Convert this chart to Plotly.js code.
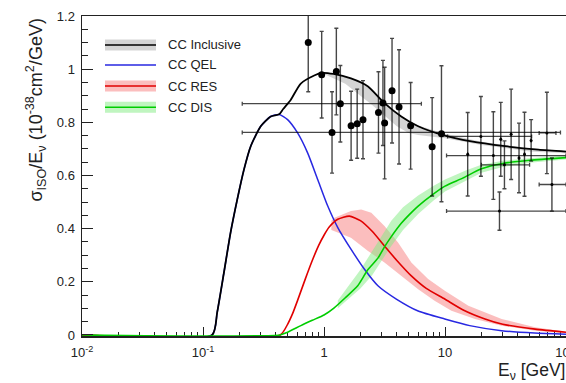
<!DOCTYPE html>
<html><head><meta charset="utf-8">
<script src="https://cdn.plot.ly/plotly-3.0.1.min.js"></script>
<style>html,body{margin:0;padding:0;background:#fff;overflow:hidden}#chart{width:566px;height:383px}</style>
</head><body><div id="chart"></div>
<script>
// ---- model curves (E in GeV, sigma/E in 1e-38 cm^2/GeV) ----
const qelE = [0.01,0.119,0.131,0.149,0.169,0.192,0.218,0.248,0.300,0.363,0.426,0.500,0.605,0.732,0.887,1.074,1.30,1.675,2.16,2.79,3.96,6.0,9.95,16,29.4,55,100];
const qelV = [0,0,0.085,0.235,0.385,0.51,0.622,0.71,0.785,0.822,0.829,0.81,0.76,0.685,0.585,0.485,0.404,0.322,0.247,0.185,0.135,0.09,0.06,0.035,0.016,0.007,0.003];

const incE = [0.01,0.119,0.131,0.149,0.169,0.192,0.218,0.248,0.300,0.363,0.426,0.46,0.532,0.64,0.83,0.96,1.2,1.67,2.31,3.16,4.35,6.0,9.3,16.5,31.4,59,100];
const incV = [0,0,0.085,0.235,0.385,0.51,0.622,0.71,0.785,0.822,0.83,0.85,0.885,0.945,0.976,0.986,0.982,0.965,0.935,0.872,0.822,0.785,0.754,0.728,0.71,0.697,0.69];

const resE = [0.01,0.434,0.5,0.55,0.605,0.7,0.8,0.9,1.0,1.1,1.3,1.62,2.0,2.5,3.16,4.0,5.27,7.0,9.95,14,21.4,30,55.6,100];
const resV = [0,0,0.04,0.08,0.13,0.21,0.28,0.335,0.375,0.405,0.435,0.447,0.43,0.39,0.335,0.28,0.222,0.175,0.135,0.095,0.06,0.04,0.022,0.01];

const disE = [0.01,0.434,0.5,0.644,0.8,1.0,1.2,1.5,1.9,2.3,2.8,3.2,3.6,4.35,5.0,6.0,8.0,10,14,20,30,50,100];
const disV = [0,0,0.01,0.035,0.055,0.075,0.10,0.14,0.185,0.245,0.29,0.335,0.37,0.42,0.45,0.485,0.53,0.56,0.59,0.625,0.645,0.657,0.667];

// ---- uncertainty bands ----
const incBandE = [1.0,1.5,2.0,2.5,3.0,4.0,5.0,6.0,10,20,50,100];
const incBandHi = [0.986,0.973,0.952,0.92,0.888,0.835,0.805,0.788,0.757,0.727,0.702,0.693];
const incBandLo = [0.982,0.945,0.9,0.865,0.835,0.785,0.76,0.752,0.74,0.715,0.69,0.684];

const resBandHiE = [1.15,1.22,1.67,2.03,2.46,3.16,4.09,5.27,7.25,9.96,15.6,29.4,55.6,100];
const resBandHi  = [0.43,0.441,0.466,0.472,0.46,0.41,0.348,0.273,0.21,0.166,0.11,0.06,0.029,0.012];
const resBandLoE = [1.15,1.67,2.31,3.16,4.35,6.0,8.2,11.3,17.7,29.4,55.6,100];
const resBandLo  = [0.395,0.366,0.316,0.273,0.222,0.172,0.129,0.091,0.06,0.035,0.016,0.0075];

const disBandE  = [1.3,1.6,2.0,2.5,3.0,3.6,4.5,6,8,10,15,20,30,50,100];
const disBandHi = [0.13,0.185,0.245,0.315,0.37,0.43,0.48,0.525,0.56,0.585,0.62,0.64,0.655,0.665,0.675];
const disBandLo = [0.10,0.135,0.175,0.225,0.28,0.335,0.395,0.455,0.505,0.54,0.58,0.61,0.632,0.648,0.66];

// ---- measurements ----
const ptE   = [0.741,0.957,1.265,1.165,1.365,1.675,1.88,2.10,2.82,3.07,3.17,3.65,4.17,5.2,7.83,9.35];
const ptV   = [1.10,0.979,0.991,0.762,0.87,0.787,0.795,0.81,0.837,0.873,0.797,0.919,0.858,0.787,0.708,0.757];
const ptErr = [0.185,0.163,0.163,0.153,0.144,0.13,0.13,0.147,0.153,0.16,0.21,0.197,0.215,0.163,0.185,0.256];
const ptXlo = [0.741,0.957,1.265,0.211,0.211,1.675,1.88,2.10,2.82,3.07,3.17,3.65,4.17,5.2,7.83,9.35];
const ptXhi = [0.741,0.957,1.265,90,6.38,1.675,1.88,2.10,2.82,3.07,3.17,3.65,4.17,5.2,7.83,9.35];

const hiE   = [15.4,19.8,25.1,28.9,31,35.2,40.9,45.4,51.5,69.5,76.5,28.2];
const hiV   = [0.68,0.747,0.675,0.736,0.64,0.755,0.666,0.68,0.732,0.76,0.566,0.466];
const hiErr = [0.157,0.15,0.165,0.139,0.09,0.17,0.131,0.158,0.078,0.153,0.1,0.072];
const hiXlo = [15.4,10.5,10.3,28.9,20,35.2,40.9,45.4,51.5,60,60,10.3];
const hiXhi = [15.4,52,100,28.9,50,35.2,40.9,45.4,51.5,82.6,100,100];

const xTickVals = [0.01,0.1,1,10,100];
const xTickText = ['10<sup>-2</sup>','10<sup>-1</sup>','1','10','100'];

const legendLabels = ['CC Inclusive','CC QEL','CC RES','CC DIS'];

// ---- build ----
function band(xHi, yHi, xLo, yLo, color) {
  return {x: xHi.concat(xLo.slice().reverse()), y: yHi.concat(yLo.slice().reverse()),
    type:'scatter', mode:'lines', fill:'toself', fillcolor:color, line:{width:0},
    hoverinfo:'skip', showlegend:false};
}
function curve(x, y, color, w) {
  return {x:x, y:y, type:'scatter', mode:'lines', line:{color:color, width:w, shape:'spline', smoothing:0.6},
    hoverinfo:'skip', showlegend:false};
}
function points(E, V, err, lo, hi, size) {
  return {x:E, y:V, type:'scatter', mode:'markers', showlegend:false, hoverinfo:'skip',
    marker:{color:'#000', size:size},
    error_y:{type:'data', array:err, visible:true, color:'rgba(0,0,0,0.72)', thickness:1.4, width:2},
    error_x:{type:'data', symmetric:false, array:hi.map((h,i)=>h-E[i]), arrayminus:lo.map((l,i)=>E[i]-l),
      visible:true, color:'rgba(0,0,0,0.72)', thickness:1.3, width:2}};
}

const bandGray = 'rgba(160,160,160,0.45)', bandRed = 'rgba(248,150,150,0.62)', bandGreen = 'rgba(130,235,130,0.5)';
const colBlue = 'rgb(40,40,225)', colRed = 'rgb(225,0,0)', colGreen = 'rgb(0,205,0)';

const traces = [
  band(incBandE, incBandHi, incBandE, incBandLo, bandGray),
  band(resBandHiE, resBandHi, resBandLoE, resBandLo, bandRed),
  band(disBandE, disBandHi, disBandE, disBandLo, bandGreen),
  curve(qelE, qelV, colBlue, 1.5),
  curve(incE, incV, '#000', 1.8),
  curve(resE, resV, colRed, 1.6),
  curve(disE, disV, colGreen, 1.6),
  points(ptE, ptV, ptErr, ptXlo, ptXhi, 7),
  points(hiE, hiV, hiErr, hiXlo, hiXhi, 3)
];

const W = 484, H = 320, L = 82, T = 16;
const px = v => (v - L) / W;
const py = v => (T + H - v) / H;

const minorX = [];
for (let d = -2; d < 2; d++) for (let k = 2; k <= 9; k++) minorX.push(k * Math.pow(10, d));

const shapes = [], annotations = [];
const legY = [45, 65, 86, 107.3];
const legColors = ['#000', colBlue, colRed, colGreen];
const legBand = [bandGray, null, bandRed, bandGreen];
legendLabels.forEach((lab, i) => {
  if (legBand[i]) shapes.push({type:'rect', xref:'paper', yref:'paper', x0:px(105), x1:px(156), y0:py(legY[i]+5.5), y1:py(legY[i]-5.5), fillcolor:legBand[i], line:{width:0}});
  shapes.push({type:'line', xref:'paper', yref:'paper', x0:px(105), x1:px(156), y0:py(legY[i]), y1:py(legY[i]), line:{color:legColors[i], width:1.6}});
  annotations.push({xref:'paper', yref:'paper', x:px(166), y:py(legY[i]), xanchor:'left', yanchor:'middle', showarrow:false, text:lab, font:{size:13, color:'#222'}});
});
annotations.push({xref:'paper', yref:'paper', x:0, xshift:-46, y:1, yshift:-1, yanchor:'top', xanchor:'center', textangle:-90, showarrow:false,
  text:'σ<sub>ISO</sub>/E<sub>ν</sub> (10<sup>-38</sup>cm<sup>2</sup>/GeV)', font:{size:18, color:'#222'}});
annotations.push({xref:'paper', yref:'paper', x:px(496), y:py(371), xanchor:'left', yanchor:'middle', showarrow:false,
  text:'E<sub>ν</sub> [GeV]', font:{size:17.5, color:'#222'}});

const layout = {
  width:566, height:383, margin:{l:82, r:0, t:16, b:47}, paper_bgcolor:'#fff', plot_bgcolor:'#fff',
  font:{family:'"Liberation Sans", Arial, sans-serif', size:13, color:'#222'},
  showlegend:false,
  xaxis:{type:'log', range:[-2, 2], tickvals:xTickVals, ticktext:xTickText, ticks:'inside', ticklen:9, tickwidth:1, tickcolor:'#222',
    showline:true, linecolor:'#222', linewidth:1.5, mirror:true, showgrid:false, zeroline:false, automargin:false, layer:'below traces',
    ticklabelstandoff:4, ticklabeloverflow:'allow',
    minor:{tickvals:minorX, ticks:'inside', ticklen:4, tickwidth:1, tickcolor:'#222', showgrid:false}},
  yaxis:{range:[-0.004, 1.2], tickvals:[0,0.2,0.4,0.6,0.8,1,1.2], ticktext:['0','0.2','0.4','0.6','0.8','1','1.2'], ticks:'inside', ticklen:11, tickwidth:1, tickcolor:'#222',
    showline:true, linecolor:'#222', linewidth:1.5, showgrid:false, zeroline:false, automargin:false,
    ticklabelstandoff:3,
    minor:{tick0:0, dtick:0.05, ticks:'inside', ticklen:6, tickwidth:1, tickcolor:'#222', showgrid:false}},
  shapes:shapes, annotations:annotations
};
Plotly.newPlot('chart', traces, layout, {staticPlot:true, displayModeBar:false});
</script></body></html>
